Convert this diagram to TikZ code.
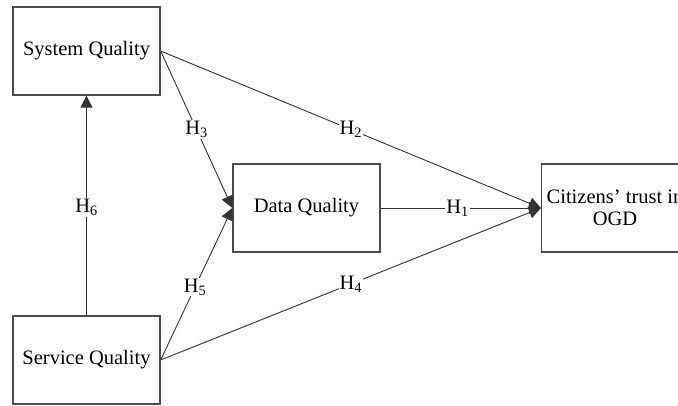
\documentclass[tikz,border=0pt]{standalone}
\usepackage{fontspec}
\setmainfont{Liberation Serif}
\usetikzlibrary{arrows.meta}
\begin{document}
\begin{tikzpicture}[x=1pt,y=-1pt,
  box/.style={draw=black!70,line width=1.3pt,minimum width=147pt,minimum height=88pt,inner sep=0pt,font=\fontsize{20.5}{24}\selectfont,align=center},
  conn/.style={draw=black!80,line width=0.9pt,-{Triangle[length=12pt,width=12pt]}},
  lab/.style={fill=white,inner sep=1pt,font=\fontsize{20.5}{24}\selectfont}]
\useasboundingbox (0,0) rectangle (678,406);
\clip (0,0) rectangle (678,406);
\node[box] (sys) at (86.5,51) {System Quality};
\node[box] (ser) at (86.5,360) {Service Quality};
\node[box] (dat) at (306.5,208) {Data Quality};
\node[box] (cit) at (615,208) {Citizens’ trust in\\[-2pt]OGD};
\draw[conn] (ser.north) -- node[lab,pos=0.49] (h6) {H\textsubscript{6}} (sys.south);
\draw[conn] (sys.east) -- node[lab,pos=0.5] (h3) {H\textsubscript{3}} (dat.west);
\draw[conn] (ser.east) -- node[lab,pos=0.48] (h5) {H\textsubscript{5}} (dat.west);
\draw[conn] (sys.east) -- node[lab,pos=0.5] (h2) {H\textsubscript{2}} (cit.west);
\draw[conn] (ser.east) -- node[lab,pos=0.5] (h4) {H\textsubscript{4}} (cit.west);
\draw[conn] (dat.east) -- node[lab,pos=0.48] (h1) {H\textsubscript{1}} (cit.west);
\end{tikzpicture}
\end{document}
